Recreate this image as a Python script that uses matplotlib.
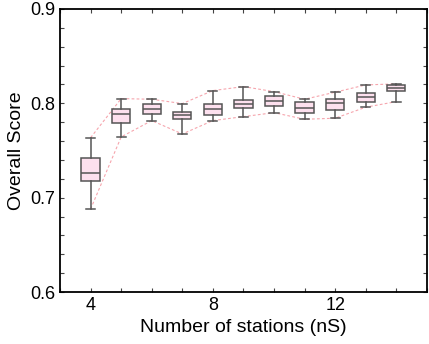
import matplotlib.pyplot as plt
from matplotlib.ticker import MultipleLocator

plt.rcParams['font.family'] = ['Liberation Sans', 'DejaVu Sans']

# number of stations
n_stations = [4, 5, 6, 7, 8, 9, 10, 11, 12, 13, 14]
# box stats
whislo = [0.688, 0.7644, 0.7817, 0.7675, 0.7817, 0.7859, 0.7901, 0.7831, 0.7842, 0.7959, 0.8018]
q1     = [0.7177, 0.7789, 0.7888, 0.7838, 0.7877, 0.7948, 0.7972, 0.7898, 0.7930, 0.8018, 0.8131]
med    = [0.7259, 0.7888, 0.7937, 0.7877, 0.7937, 0.7997, 0.8025, 0.7954, 0.8001, 0.8071, 0.8166]
q3     = [0.7418, 0.7937, 0.7990, 0.7906, 0.7994, 0.8033, 0.8075, 0.8011, 0.8043, 0.8113, 0.8198]
whishi = [0.7636, 0.8050, 0.8043, 0.7997, 0.8135, 0.8177, 0.8124, 0.8043, 0.8118, 0.8195, 0.8206]

stats = []
for i in range(len(n_stations)):
    stats.append({'whislo': whislo[i], 'q1': q1[i], 'med': med[i],
                  'q3': q3[i], 'whishi': whishi[i], 'fliers': []})

fig = plt.figure(figsize=(4.29, 3.44), dpi=100)
ax = fig.add_axes([0.14, 0.151, 0.855, 0.823])

edge = '#555555'
ax.plot(n_stations, whishi, color='#f6a5ad', lw=0.8, dashes=(2.5, 2), zorder=1)
ax.plot(n_stations, whislo, color='#f6a5ad', lw=0.8, dashes=(2.5, 2), zorder=1)

ax.bxp(stats, positions=n_stations, widths=0.6, patch_artist=True,
       showfliers=False, manage_ticks=False,
       boxprops=dict(facecolor='#fde0ee', edgecolor=edge, lw=1.1),
       medianprops=dict(color=edge, lw=1.1),
       whiskerprops=dict(color=edge, lw=1.1),
       capprops=dict(color=edge, lw=1.1))

ax.set_xlim(3, 15)
ax.set_ylim(0.6, 0.9)
ax.xaxis.set_major_locator(MultipleLocator(4))
ax.xaxis.set_minor_locator(MultipleLocator(1))
ax.yaxis.set_major_locator(MultipleLocator(0.1))
ax.yaxis.set_minor_locator(MultipleLocator(0.02))
ax.tick_params(which='both', direction='in', top=True, right=True, labelsize=13,
               width=0.8, length=3, color='#444444')
for s in ax.spines.values():
    s.set_linewidth(1.3)

ax.set_xlabel('Number of stations (nS)', fontsize=14, labelpad=4)
ax.set_ylabel('Overall Score', fontsize=14, labelpad=4)

fig.savefig('out.png', dpi=100)
